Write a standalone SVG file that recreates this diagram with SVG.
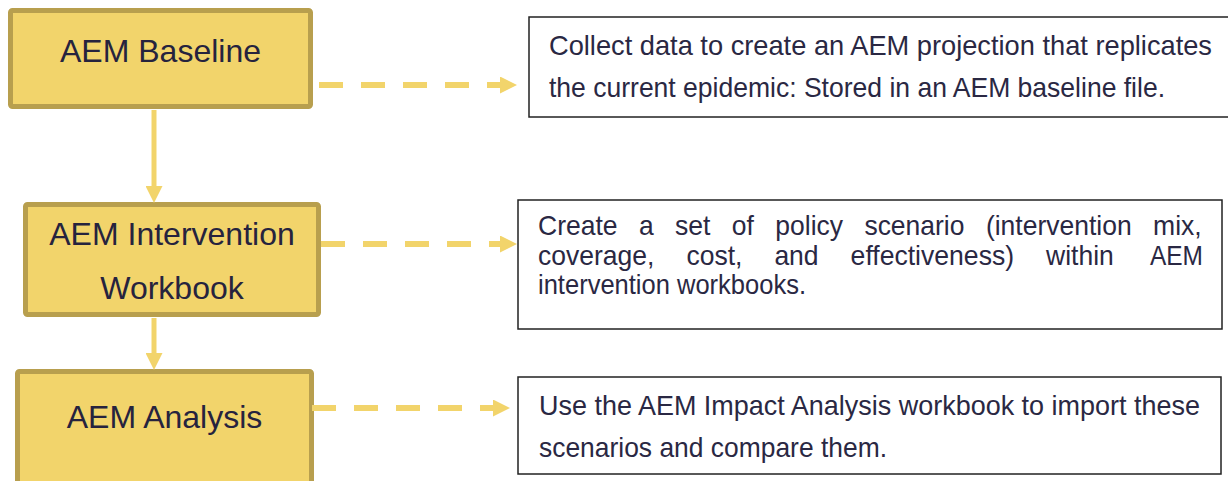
<svg xmlns="http://www.w3.org/2000/svg" width="1228" height="481" viewBox="0 0 1228 481">
<style>
.step{fill:#F2D46B;stroke:#B89F4E;stroke-width:5}
.lbl{font-family:"Liberation Sans",Arial,sans-serif;font-size:32px;fill:#26233E;text-anchor:middle}
.desc{fill:#FFFFFF;stroke:#222222;stroke-width:1.5}
.dt{font-family:"Liberation Sans",Arial,sans-serif;font-size:28px;fill:#2A2843}
.jt{font-family:"Liberation Sans",Arial,sans-serif;font-size:28px;fill:#2A2843}
.dash{fill:none;stroke:#F2D46B;stroke-width:6;stroke-dasharray:24 18}
.solid{fill:none;stroke:#F2D46B;stroke-width:5}
</style>
<defs>
<marker id="ah" viewBox="0 0 17 17" markerWidth="17" markerHeight="17" refX="0" refY="8.5" orient="auto" markerUnits="userSpaceOnUse">
<path d="M0,0 L17,8.5 L0,17 z" fill="#F2D46B"/>
</marker>
</defs>
<rect width="1228" height="481" fill="#FFFFFF"/>
<g id="node-baseline">
<rect class="step" x="10.5" y="10.5" width="300" height="96" rx="2"/>
<text class="lbl" x="160.5" y="62">AEM Baseline</text>
</g>
<g id="node-intervention">
<rect class="step" x="25.5" y="204.5" width="293" height="110" rx="2"/>
<text class="lbl" x="172" y="245">AEM Intervention</text>
<text class="lbl" x="172" y="299">Workbook</text>
</g>
<g id="node-analysis">
<rect class="step" x="17.5" y="371.5" width="294" height="130" rx="2"/>
<text class="lbl" x="164.5" y="428">AEM Analysis</text>
</g>
<g id="desc-baseline">
<rect class="desc" x="529" y="17" width="720" height="100"/>
<text class="dt" x="549" y="55" textLength="663" lengthAdjust="spacingAndGlyphs">Collect data to create an AEM projection that replicates</text>
<text class="dt" x="549" y="97" textLength="616" lengthAdjust="spacingAndGlyphs">the current epidemic: Stored in an AEM baseline file.</text>
</g>
<g id="desc-intervention">
<rect class="desc" x="518" y="200" width="704" height="129"/>
<text class="jt" x="538" y="235" textLength="79.5" lengthAdjust="spacingAndGlyphs">Create</text>
<text class="jt" x="638.9" y="235" textLength="14.7" lengthAdjust="spacingAndGlyphs">a</text>
<text class="jt" x="675" y="235" textLength="35.4" lengthAdjust="spacingAndGlyphs">set</text>
<text class="jt" x="731.8" y="235" textLength="22.1" lengthAdjust="spacingAndGlyphs">of</text>
<text class="jt" x="775.3" y="235" textLength="67.7" lengthAdjust="spacingAndGlyphs">policy</text>
<text class="jt" x="864.4" y="235" textLength="100.1" lengthAdjust="spacingAndGlyphs">scenario</text>
<text class="jt" x="985.9" y="235" textLength="145.8" lengthAdjust="spacingAndGlyphs">(intervention</text>
<text class="jt" x="1153.1" y="235" textLength="48.6" lengthAdjust="spacingAndGlyphs">mix,</text>
<text class="jt" x="538" y="265" textLength="116.4" lengthAdjust="spacingAndGlyphs">coverage,</text>
<text class="jt" x="686.4" y="265" textLength="56" lengthAdjust="spacingAndGlyphs">cost,</text>
<text class="jt" x="774.4" y="265" textLength="44.2" lengthAdjust="spacingAndGlyphs">and</text>
<text class="jt" x="850.6" y="265" textLength="163.5" lengthAdjust="spacingAndGlyphs">effectiveness)</text>
<text class="jt" x="1046.1" y="265" textLength="67.7" lengthAdjust="spacingAndGlyphs">within</text>
<text class="jt" x="1150" y="265" textLength="53" lengthAdjust="spacingAndGlyphs">AEM</text>
<text class="jt" x="538" y="294" textLength="268" lengthAdjust="spacingAndGlyphs">intervention workbooks.</text>
</g>
<g id="desc-analysis">
<rect class="desc" x="518" y="377" width="703" height="97"/>
<text class="dt" x="539" y="415" textLength="661" lengthAdjust="spacingAndGlyphs">Use the AEM Impact Analysis workbook to import these</text>
<text class="dt" x="539" y="457" textLength="348" lengthAdjust="spacingAndGlyphs">scenarios and compare them.</text>
</g>
<g id="connectors">
<line class="dash" x1="319" y1="85" x2="500" y2="85" marker-end="url(#ah)"/>
<line class="dash" x1="321" y1="244" x2="500" y2="244" marker-end="url(#ah)"/>
<line class="dash" x1="312" y1="408" x2="493" y2="408" marker-end="url(#ah)"/>
<line class="solid" x1="154" y1="110" x2="154" y2="186" marker-end="url(#ah)"/>
<line class="solid" x1="154" y1="318" x2="154" y2="353" marker-end="url(#ah)"/>
</g>
</svg>
